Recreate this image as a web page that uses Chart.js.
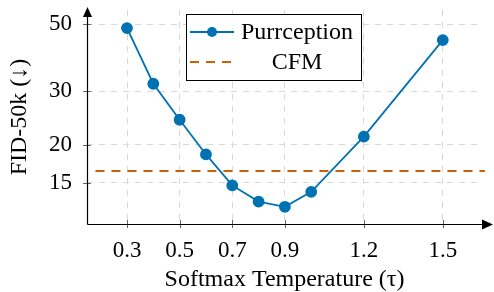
<!DOCTYPE html>
<html>
<head>
<meta charset="utf-8">
<script src="https://cdn.jsdelivr.net/npm/chart.js@4"></script>
<style>
  html, body { margin: 0; padding: 0; background: #fff; }
  #wrap { width: 494px; height: 292px; }
</style>
</head>
<body>
<div id="wrap"><canvas id="fid-chart" width="494" height="292"></canvas></div>
<script>
// values
var temperatures = [0.3, 0.4, 0.5, 0.6, 0.7, 0.8, 0.9, 1.0, 1.2, 1.5];
var purrceptionFid = [48.5, 31.8, 24.2, 18.6, 14.7, 13.0, 12.5, 14.0, 21.3, 44.3];
var cfmFid = 16.4;
var cfmSpan = [0.18, 1.66];
var xTicks = [0.3, 0.5, 0.7, 0.9, 1.2, 1.5];
var yTicks = [15, 20, 30, 50];

var BLUE = '#0072B2';
var ORANGE = '#D55E00';
var SERIF = '"Liberation Serif", "DejaVu Serif", serif';

// axis lines with arrow heads, little tick marks, and the boxed legend
var axesAndLegend = {
    id: 'axesAndLegend',
    afterDatasetsDraw: function(chart) {
        var ctx = chart.ctx;
        var area = chart.chartArea;
        var xs = chart.scales.x;
        var ys = chart.scales.y;

        ctx.save();
        // tick marks across the axes
        ctx.strokeStyle = '#666';
        ctx.lineWidth = 1;
        xTicks.forEach(function(t) {
            var px = Math.round(xs.getPixelForValue(t)) + 0.5;
            ctx.beginPath();
            ctx.moveTo(px, area.bottom - 4);
            ctx.lineTo(px, area.bottom + 4);
            ctx.stroke();
        });
        yTicks.forEach(function(t) {
            var py = Math.round(ys.getPixelForValue(t)) + 0.5;
            ctx.beginPath();
            ctx.moveTo(area.left - 4, py);
            ctx.lineTo(area.left + 4, py);
            ctx.stroke();
        });

        // axis lines
        ctx.strokeStyle = '#000';
        ctx.fillStyle = '#000';
        ctx.lineWidth = 1.2;
        var x0 = Math.round(area.left) + 0.5;
        var y0 = Math.round(area.bottom) + 0.5;
        ctx.beginPath();
        ctx.moveTo(x0, y0);
        ctx.lineTo(x0, area.top + 4);
        ctx.moveTo(x0, y0);
        ctx.lineTo(area.right + 2, y0);
        ctx.stroke();
        // arrow heads
        ctx.beginPath();
        ctx.moveTo(x0, area.top - 3);
        ctx.lineTo(x0 - 4.5, area.top + 7);
        ctx.lineTo(x0 + 4.5, area.top + 7);
        ctx.closePath();
        ctx.fill();
        ctx.beginPath();
        ctx.moveTo(area.right + 11, y0);
        ctx.lineTo(area.right, y0 - 5);
        ctx.lineTo(area.right, y0 + 5);
        ctx.closePath();
        ctx.fill();

        // legend box
        var bx = 186.5, by = 14.5, bw = 175, bh = 66;
        ctx.fillStyle = '#fff';
        ctx.fillRect(bx, by, bw, bh);
        ctx.strokeStyle = '#000';
        ctx.lineWidth = 1;
        ctx.strokeRect(bx, by, bw, bh);

        var ds = chart.data.datasets;
        var textX = 297;
        // row 1: line + marker
        ctx.strokeStyle = ds[0].borderColor;
        ctx.lineWidth = ds[0].borderWidth;
        ctx.beginPath();
        ctx.moveTo(190, 32);
        ctx.lineTo(234, 32);
        ctx.stroke();
        ctx.fillStyle = ds[0].pointBackgroundColor;
        ctx.beginPath();
        ctx.arc(212, 32, 5, 0, Math.PI * 2);
        ctx.fill();
        // row 2: dashed line
        ctx.strokeStyle = ds[1].borderColor;
        ctx.lineWidth = ds[1].borderWidth;
        ctx.setLineDash(ds[1].borderDash);
        ctx.beginPath();
        ctx.moveTo(190, 62);
        ctx.lineTo(232, 62);
        ctx.stroke();
        ctx.setLineDash([]);

        ctx.fillStyle = '#000';
        ctx.font = '24px ' + SERIF;
        ctx.textAlign = 'center';
        ctx.textBaseline = 'middle';
        ctx.fillText(ds[0].label, textX, 33);
        ctx.fillText(ds[1].label, textX, 63);
        ctx.restore();
    }
};

var ctx = document.getElementById('fid-chart');

new Chart(ctx, {
    type: 'line',
    data: {
        datasets: [{
            label: 'Purrception',
            data: temperatures.map(function(t, i) { return {x: t, y: purrceptionFid[i]}; }),
            borderColor: BLUE,
            backgroundColor: BLUE,
            pointBackgroundColor: BLUE,
            pointBorderColor: BLUE,
            borderWidth: 1.8,
            pointRadius: 5,
            tension: 0
        }, {
            label: 'CFM',
            data: cfmSpan.map(function(t) { return {x: t, y: cfmFid}; }),
            borderColor: ORANGE,
            borderWidth: 2,
            borderDash: [9, 7],
            pointRadius: 0,
            tension: 0,
            clip: 4
        }]
    },
    options: {
        responsive: false,
        animation: false,
        layout: { padding: { left: 0, right: 12, top: 10, bottom: 0 } },
        plugins: {
            legend: { display: false },
            tooltip: { enabled: false }
        },
        scales: {
            x: {
                type: 'linear',
                min: 0.148,
                max: 1.649,
                afterBuildTicks: function(scale) {
                    scale.ticks = xTicks.map(function(v) { return {value: v}; });
                },
                afterFit: function(scale) {
                    scale.height = 68;
                    scale.paddingLeft = 0;
                    scale.paddingRight = 0;
                },
                border: { display: false, dash: [6, 6] },
                grid: {
                    color: '#d9d9d9',
                    lineWidth: 1,
                    drawTicks: false
                },
                ticks: {
                    padding: 13,
                    color: '#000',
                    font: { family: SERIF, size: 23 },
                    callback: function(v) { return v.toFixed(1); }
                },
                title: {
                    display: true,
                    text: 'Softmax Temperature (τ)',
                    color: '#000',
                    font: { family: SERIF, size: 24, lineHeight: 1 },
                    padding: { top: 0, bottom: 0 }
                }
            },
            y: {
                type: 'logarithmic',
                min: 10.97,
                max: 55.65,
                afterBuildTicks: function(scale) {
                    scale.ticks = yTicks.map(function(v) { return {value: v}; });
                },
                afterFit: function(scale) {
                    scale.width = 87;
                    scale.paddingTop = 0;
                    scale.paddingBottom = 0;
                },
                border: { display: false, dash: [6, 6] },
                grid: {
                    color: '#d9d9d9',
                    lineWidth: 1,
                    drawTicks: false
                },
                ticks: {
                    padding: 15,
                    color: '#000',
                    font: { family: SERIF, size: 23 },
                    callback: function(v) { return String(v); }
                },
                title: {
                    display: true,
                    text: 'FID-50k (↓)',
                    color: '#000',
                    font: { family: SERIF, size: 24 },
                    padding: { top: 5, bottom: 0 }
                }
            }
        }
    },
    plugins: [axesAndLegend]
});
</script>
</body>
</html>
